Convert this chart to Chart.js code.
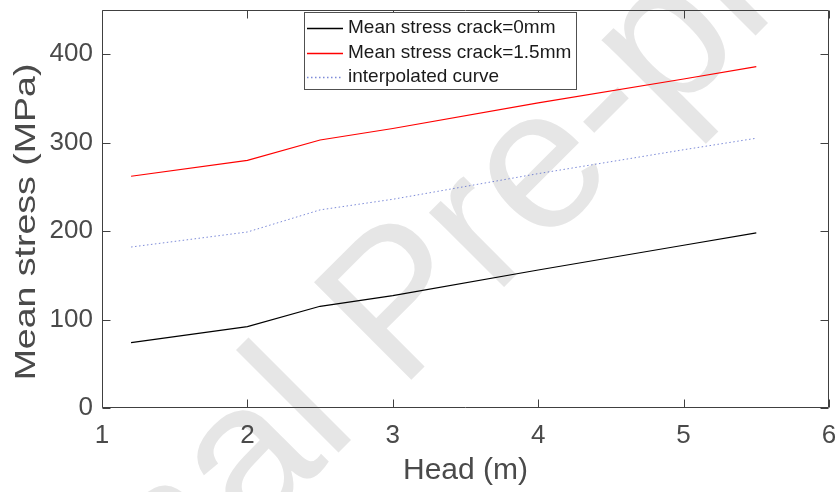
<!DOCTYPE html>
<html>
<head>
<meta charset="utf-8">
<script src="https://cdn.jsdelivr.net/npm/chart.js@4/dist/chart.umd.min.js"></script>
<style>
  html, body { margin: 0; padding: 0; background: #ffffff; }
  #wrap { width: 835px; height: 492px; }
</style>
</head>
<body>
<div id="wrap"><canvas id="c" width="835" height="492"></canvas></div>
<script>
// Head values (m) and mean stress series (MPa)
const heads = [1.2, 2, 2.5, 3, 4, 5, 5.5];
const stressCrack0 = [74, 92, 115, 127, 156, 184, 198];
const stressCrack15 = [262, 280, 303, 316, 345, 372, 386];
const interpolatedCurve = [182, 199, 224, 236, 265, 292, 305];

const seriesLabels = ['Mean stress crack=0mm', 'Mean stress crack=1.5mm', 'interpolated curve'];
const xTickValues = [1, 2, 3, 4, 5, 6];
const yTickValues = [0, 100, 200, 300, 400];
const xTitle = 'Head (m)';
const yTitle = 'Mean stress (MPa)';
const watermarkText = 'Journal Pre-proof';

const FONT = '"Liberation Sans", Arial, Helvetica, sans-serif';
const AXIS_COLOR = '#404040';
const TEXT_COLOR = '#4a4a4a';

const toPoints = ys => heads.map((h, i) => ({ x: h, y: ys[i] }));

// Light diagonal watermark behind everything
const watermark = {
  id: 'watermark',
  beforeDraw(chart) {
    const c = chart.ctx;
    c.save();
    c.fillStyle = '#ffffff';
    c.fillRect(0, 0, chart.width, chart.height);
    c.translate(443, 348);
    c.rotate(-Math.PI / 4);
    c.font = '200px ' + FONT;
    c.fillStyle = '#e6e6e6';
    c.textAlign = 'center';
    c.textBaseline = 'alphabetic';
    c.fillText(watermarkText, 0, 0);
    c.restore();
  }
};

// Boxed axes with inward ticks on all four sides, legend and y title
const frame = {
  id: 'frame',
  afterDraw(chart) {
    const c = chart.ctx;
    const a = chart.chartArea;
    const xs = chart.scales.x, ys = chart.scales.y;
    const L = Math.round(a.left) + 0.5, R = Math.round(a.right) - 0.5;
    const T = Math.round(a.top) + 0.5, B = Math.round(a.bottom) - 0.5;
    const tl = 8;
    c.save();
    c.strokeStyle = AXIS_COLOR;
    c.lineWidth = 1;
    c.beginPath();
    c.rect(L, T, R - L, B - T);
    xTickValues.forEach(v => {
      const px = Math.round(xs.getPixelForValue(v)) + 0.5;
      c.moveTo(px, B); c.lineTo(px, B - tl);
      c.moveTo(px, T); c.lineTo(px, T + tl);
    });
    yTickValues.forEach(v => {
      const py = Math.round(ys.getPixelForValue(v)) + 0.5;
      c.moveTo(L, py); c.lineTo(L + tl, py);
      c.moveTo(R, py); c.lineTo(R - tl, py);
    });
    c.stroke();

    // Y axis title
    c.save();
    c.translate(27, 222);
    c.rotate(-Math.PI / 2);
    c.scale(1.25, 1);
    c.font = '30px ' + FONT;
    c.fillStyle = TEXT_COLOR;
    c.textAlign = 'center';
    c.textBaseline = 'middle';
    c.fillText(yTitle, 0, 0);
    c.restore();

    // Legend box
    const bx = 304.5, by = 12.5, bw = 272, bh = 77;
    c.fillStyle = '#ffffff';
    c.fillRect(bx, by, bw, bh);
    c.strokeStyle = '#505050';
    c.lineWidth = 1;
    c.strokeRect(bx, by, bw, bh);
    c.font = '19px ' + FONT;
    c.textAlign = 'left';
    c.textBaseline = 'middle';
    chart.data.datasets.forEach((ds, i) => {
      const yy = 28 + i * 24.5;
      c.save();
      c.strokeStyle = ds.borderColor;
      c.lineWidth = 1.3;
      c.setLineDash(ds.borderDash || []);
      c.beginPath();
      c.moveTo(307, Math.round(yy) + 0.5);
      c.lineTo(343, Math.round(yy) + 0.5);
      c.stroke();
      c.restore();
      c.fillStyle = '#1a1a1a';
      c.fillText(ds.label, 348, yy);
    });
    c.restore();
  }
};

new Chart(document.getElementById('c'), {
  type: 'line',
  data: {
    datasets: [
      { label: seriesLabels[0], data: toPoints(stressCrack0), borderColor: '#000000', borderWidth: 1.2 },
      { label: seriesLabels[1], data: toPoints(stressCrack15), borderColor: '#ff0000', borderWidth: 1.1 },
      { label: seriesLabels[2], data: toPoints(interpolatedCurve), borderColor: 'rgba(70,90,200,0.7)', borderWidth: 1, borderDash: [1.5, 2.5] }
    ]
  },
  options: {
    responsive: false,
    devicePixelRatio: 1,
    animation: false,
    layout: { padding: { top: 10, right: 6, left: 0, bottom: 0 } },
    elements: { point: { radius: 0 }, line: { tension: 0 } },
    plugins: { legend: { display: false }, tooltip: { enabled: false } },
    scales: {
      x: {
        type: 'linear', min: 1, max: 6,
        afterBuildTicks: s => { s.ticks = xTickValues.map(v => ({ value: v })); },
        afterFit: s => { s.height = 84; s.paddingLeft = 0; s.paddingRight = 0; },
        grid: { display: false, drawTicks: false },
        border: { display: false },
        ticks: { padding: 12, color: TEXT_COLOR, font: { family: FONT, size: 26 } },
        title: { display: true, text: xTitle, color: TEXT_COLOR, font: { family: FONT, size: 30 }, padding: { top: 0, bottom: 3 } }
      },
      y: {
        type: 'linear', min: 0, max: 450,
        afterBuildTicks: s => { s.ticks = yTickValues.map(v => ({ value: v })); },
        afterFit: s => { s.width = 102; s.paddingTop = 0; s.paddingBottom = 0; },
        grid: { display: false, drawTicks: false },
        border: { display: false },
        ticks: { padding: 9, color: TEXT_COLOR, font: { family: FONT, size: 26 } }
      }
    }
  },
  plugins: [watermark, frame]
});
</script>
</body>
</html>
